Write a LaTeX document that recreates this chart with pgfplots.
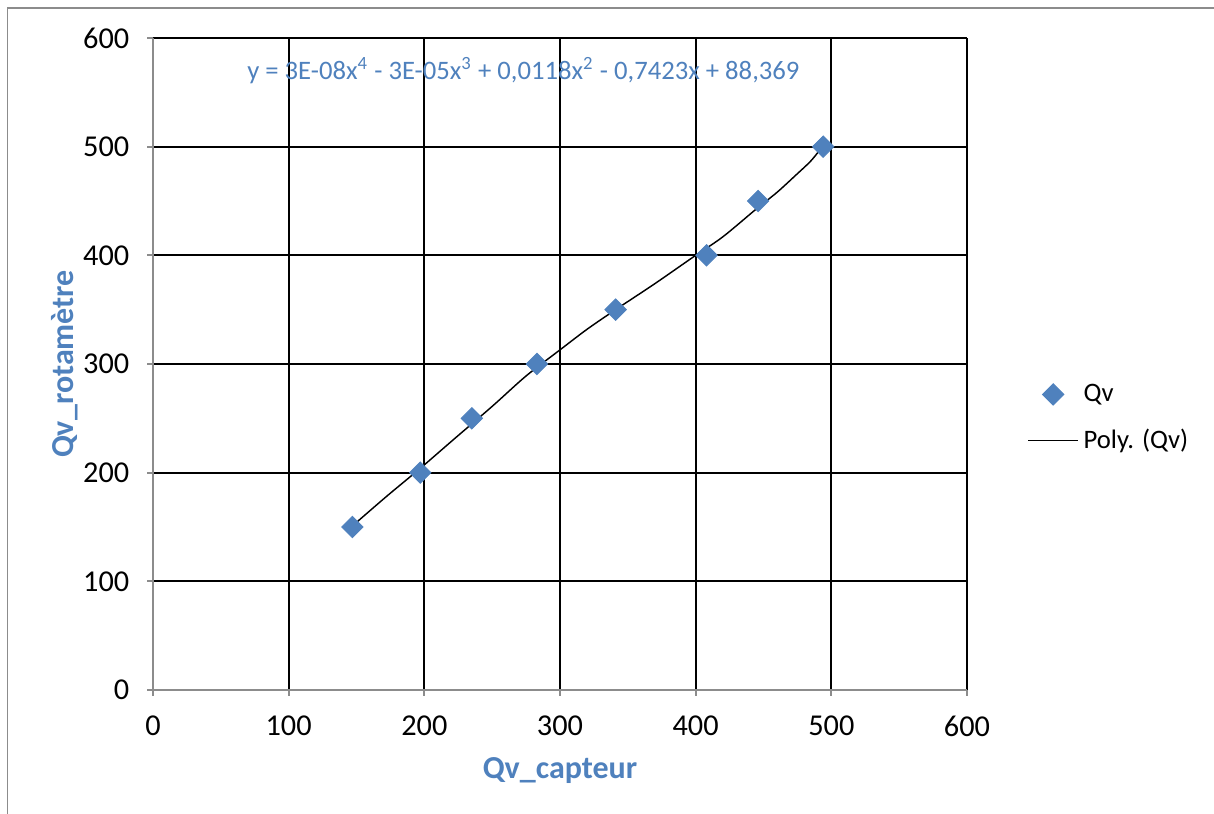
\documentclass[border=0pt]{standalone}
\usepackage{fontspec}
\setmainfont{Carlito}
\usepackage{pgfplots}
\pgfplotsset{compat=1.18}
\definecolor{xlblue}{HTML}{4F81BD}
\definecolor{axgray}{HTML}{8C8C8C}
\pgfplotsset{
    marklegend/.style={legend image code/.code={
        \draw[mark repeat=2, mark phase=2, ##1]
            plot coordinates {(0cm,0cm) (0.36cm,0cm) (0.72cm,0cm)};}},
    linelegend/.style={legend image code/.code={
        \draw[##1] (0cm,0cm) -- (0.72cm,0cm);}},
}
\begin{document}
\begin{tikzpicture}
% page = 1214x814 px at 0.0145 cm/px, axis origin at px (153,690)
\path[use as bounding box] (-2.2185,-1.798) rectangle (15.3845,10.005);
\draw[axgray, line width=0.8pt] (-2.11,-1.9) -- (-2.11,9.889) -- (15.5,9.889);
\begin{axis}[
    scale only axis,
    width=11.803cm,
    height=9.454cm,
    xmin=0, xmax=600,
    ymin=0, ymax=600,
    xtick={100,200,300,400,500,600},
    ytick={100,200,300,400,500,600},
    extra x ticks={0},
    extra y ticks={0},
    extra tick style={grid=none},
    axis x line=bottom,
    axis y line=left,
    axis line style={axgray, line width=0.8pt, -},
    tick style={axgray, line width=0.8pt},
    tick align=outside,
    major tick length=0.08cm,
    grid=major,
    grid style={black, line width=0.8pt},
    tick label style={font=\fontsize{12.5}{15}\selectfont},
    xticklabel style={yshift=-0.17cm},
    yticklabel style={xshift=-0.14cm},
    /pgf/number format/assume math mode=true,
    xlabel={Qv\_capteur},
    ylabel={Qv\_rotamètre},
    label style={font=\fontsize{13.2}{16}\selectfont\bfseries, text=xlblue},
    xlabel style={at={(axis description cs:0.5,-0.124)}, anchor=center},
    ylabel style={at={(axis description cs:-0.108,0.5)}, anchor=center},
    legend style={
        at={(axis description cs:1.065,0.485)},
        anchor=north west,
        draw=none,
        fill=none,
        font=\fontsize{11}{13}\selectfont,
        row sep=6pt,
    },
    legend cell align={left},
    clip=false,
]

% Qv measurements
\addplot[
    only marks,
    mark=square*,
    mark size=3.1pt,
    mark options={rotate=45, fill=xlblue, draw=xlblue},
    marklegend,
] coordinates {
    (147,150) (197,200) (235,250) (283,300)
    (341,350) (408,400) (446,450) (494,500)
};
\addlegendentry{Qv}

% polynomial trend line
\addplot[
    black,
    line width=0.6pt,
    smooth,
    no markers,
    linelegend,
] coordinates {
    (147,151) (172,178) (197,204) (222,231) (250,261) (275,289)
    (300,313) (320,332) (341,350) (370,374) (400,400) (420,417)
    (445,443) (460,458) (474,474) (485,487) (494,501)
};
\addlegendentry{Poly. (Qv)}

\node[text=xlblue, font=\fontsize{11}{13}\selectfont, anchor=center] at (axis cs:273,570)
    {y = 3E-08x\textsuperscript{4} - 3E-05x\textsuperscript{3} + 0,0118x\textsuperscript{2} - 0,7423x + 88,369};

\end{axis}
\end{tikzpicture}
\end{document}
